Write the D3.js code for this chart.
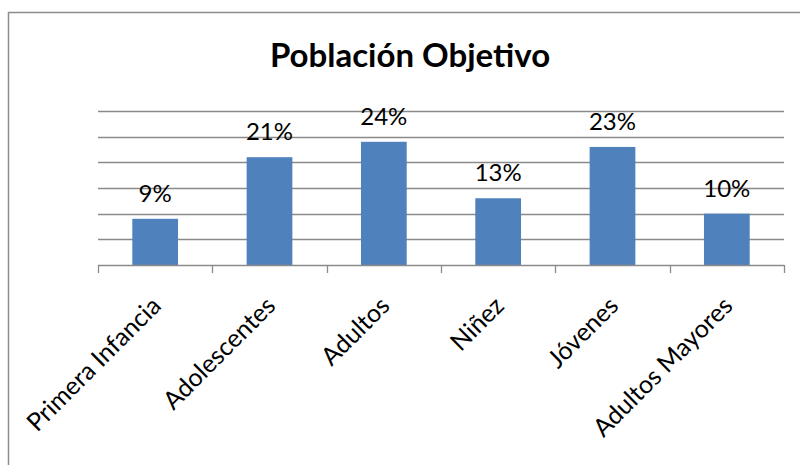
<!DOCTYPE html>
<html>
<head>
<meta charset="utf-8">
<script src="https://cdn.jsdelivr.net/npm/d3@7"></script>
<style>
  html, body { margin: 0; padding: 0; background: #fff; }
  svg { display: block; }
  text { font-family: Lato, "Open Sans", "Noto Sans", sans-serif; }
</style>
</head>
<body>
<svg id="chart" width="800" height="465"></svg>
<script>
const titleText = "Población Objetivo";
const categories = ["Primera Infancia", "Adolescentes", "Adultos", "Niñez", "Jóvenes", "Adultos Mayores"];
const values = [9, 21, 24, 13, 23, 10];
const valueLabels = ["9%", "21%", "24%", "13%", "23%", "10%"];
const gridTicks = [0, 5, 10, 15, 20, 25, 30];

const svg = d3.select("#chart");
const W = 800, H = 465;

// outer border (left and top visible)
svg.append("path")
  .attr("d", `M8.5,${H} L8.5,12.5 L${W},12.5`)
  .attr("fill", "none").attr("stroke", "#8c8c8c").attr("stroke-width", 1.5);

const plot = { left: 98, right: 784, top: 111, bottom: 265 };

const x = d3.scaleBand().domain(categories).range([plot.left, plot.right]).paddingInner(0.6).paddingOuter(0.3);
const xb = d3.scaleBand().domain(categories).range([plot.left, plot.right]);
const y = d3.scaleLinear().domain([0, 30]).range([plot.bottom, plot.top]);

// gridlines
svg.append("g")
  .selectAll("line").data(gridTicks.slice(1)).join("line")
  .attr("x1", plot.left).attr("x2", plot.right)
  .attr("y1", d => Math.round(y(d)) + 0.5).attr("y2", d => Math.round(y(d)) + 0.5)
  .attr("stroke", "#8a8a8a").attr("stroke-width", 1.3);

// bars
svg.append("g")
  .selectAll("rect").data(categories).join("rect")
  .attr("x", (d) => x(d))
  .attr("width", x.bandwidth())
  .attr("y", (d, i) => y(values[i]))
  .attr("height", (d, i) => y(0) - y(values[i]))
  .attr("fill", "#4f81bd");

// x axis line and ticks
const xAxis = svg.append("g");
xAxis.append("line")
  .attr("x1", plot.left).attr("x2", plot.right)
  .attr("y1", plot.bottom + 0.5).attr("y2", plot.bottom + 0.5)
  .attr("stroke", "#8a8a8a").attr("stroke-width", 1.3);
const tickPos = categories.map(c => xb(c)).concat([plot.right]);
xAxis.selectAll("line.tick").data(tickPos).join("line")
  .attr("class", "tick")
  .attr("x1", d => Math.round(d) + 0.5).attr("x2", d => Math.round(d) + 0.5)
  .attr("y1", plot.bottom).attr("y2", plot.bottom + 8)
  .attr("stroke", "#8a8a8a").attr("stroke-width", 1.3);

// category labels
svg.append("g")
  .selectAll("text").data(categories).join("text")
  .attr("transform", d => `translate(${xb(d) + xb.bandwidth() / 2 + 3},${plot.bottom + 38}) rotate(-45)`)
  .attr("text-anchor", "end")
  .attr("dy", "0.25em")
  .attr("font-size", 25)
  .attr("fill", "#000")
  .text(d => d);

// value labels
svg.append("g")
  .selectAll("text").data(categories).join("text")
  .attr("x", d => x(d) + x.bandwidth() / 2)
  .attr("y", (d, i) => y(values[i]) - 17)
  .attr("text-anchor", "middle")
  .attr("font-size", 24)
  .attr("fill", "#000")
  .text((d, i) => valueLabels[i]);

// title
svg.append("text")
  .attr("x", 410).attr("y", 67)
  .attr("text-anchor", "middle")
  .attr("font-size", 33)
  .attr("font-weight", "bold")
  .attr("fill", "#000")
  .text(titleText);
</script>
</body>
</html>
